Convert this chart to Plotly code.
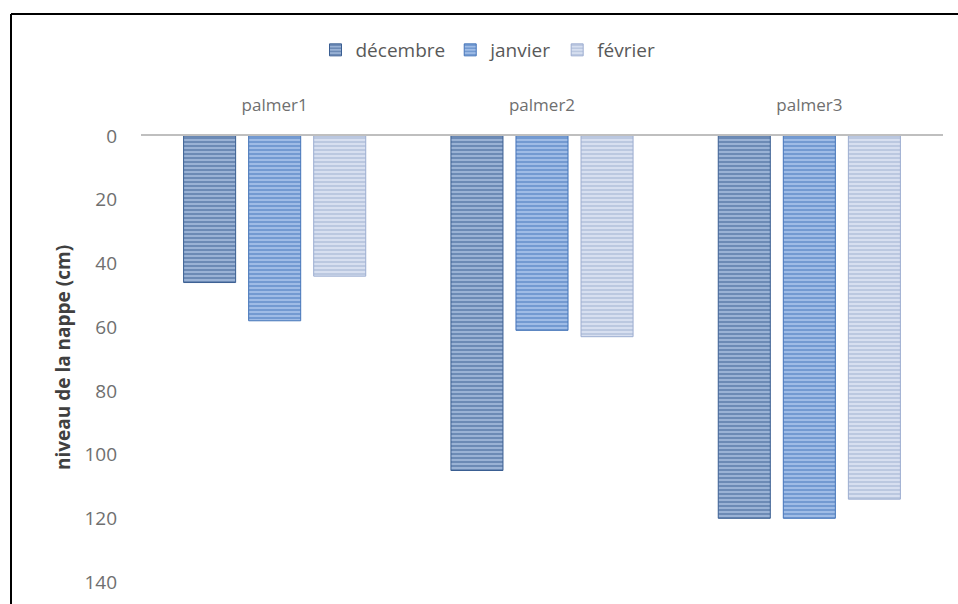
import plotly.graph_objects as go

# Water-table depth (cm) per site and month
sites = ["palmer1", "palmer2", "palmer3"]
months = ["décembre", "janvier", "février"]
decembre = [46, 105, 120]
janvier = [58, 61, 120]
fevrier = [44, 63, 114]
y_ticks = [0, 20, 40, 60, 80, 100, 120, 140]

series = [decembre, janvier, fevrier]
stripe_fg = ["#3a5e92", "#4474b9", "#9cadd0"]
stripe_bg = ["#9fb6d8", "#a3c0e8", "#dae2f1"]

W, H = 958, 604
ML, MR, MT, MB = 141, 15, 136, 22

fig = go.Figure()
for name, vals, fg, bg in zip(months, series, stripe_fg, stripe_bg):
    fig.add_trace(go.Bar(
        name=name,
        x=sites,
        y=vals,
        marker=dict(
            color=bg,
            line=dict(color=fg, width=1),
            pattern=dict(shape="-", fgcolor=fg, bgcolor=bg, size=4, solidity=0.55),
        ),
    ))

label_grey = "#6f6f6f"
legend_grey = "#595959"
font_family = "Open Sans, Noto Sans, sans-serif"

pw = W - ML - MR
ph = H - MT - MB

fig.update_layout(
    width=W, height=H,
    margin=dict(l=ML, r=MR, t=MT, b=MB, autoexpand=False),
    paper_bgcolor="white",
    plot_bgcolor="white",
    barmode="group",
    bargap=0.27,
    bargroupgap=0.2,
    font=dict(family=font_family, color=label_grey),
    showlegend=True,
    legend=dict(
        orientation="h",
        xref="container", yref="container",
        x=488 / W, xanchor="center",
        y=1 - 50 / H, yanchor="middle",
        font=dict(size=19, color=legend_grey),
        itemwidth=30,
        traceorder="normal",
    ),
    xaxis=dict(
        side="top",
        automargin=False,
        showline=True,
        linecolor="#bfbfbf",
        linewidth=2,
        ticks="",
        ticklabelstandoff=16,
        tickfont=dict(size=17, color=label_grey),
        showgrid=False,
        zeroline=False,
    ),
    yaxis=dict(
        range=[140, 0],
        automargin=False,
        tickvals=y_ticks,
        ticktext=[str(v) for v in y_ticks],
        showline=False,
        showgrid=False,
        zeroline=False,
        ticks="",
        ticklabelstandoff=23,
        tickfont=dict(size=19, color=label_grey),
    ),
)

# Vertical axis title
fig.add_annotation(
    text="<b>niveau de la nappe (cm)</b>",
    textangle=-90,
    xref="paper", yref="paper",
    x=(63 - ML) / pw, y=(H - 358 - MB) / ph,
    xanchor="center", yanchor="middle",
    showarrow=False,
    font=dict(size=19, color="#404040", family=font_family),
)

# Chart frame (left and top edges)
fx = (11 - ML) / pw
fy_top = (H - 14 - MB) / ph
fy_bot = (-MB) / ph
fx_right = (W - ML) / pw
fig.add_shape(type="line", xref="paper", yref="paper",
              x0=fx, x1=fx, y0=fy_bot, y1=fy_top,
              line=dict(color="black", width=2))
fig.add_shape(type="line", xref="paper", yref="paper",
              x0=fx, x1=fx_right, y0=fy_top, y1=fy_top,
              line=dict(color="black", width=2))

fig.write_html("out.html")
